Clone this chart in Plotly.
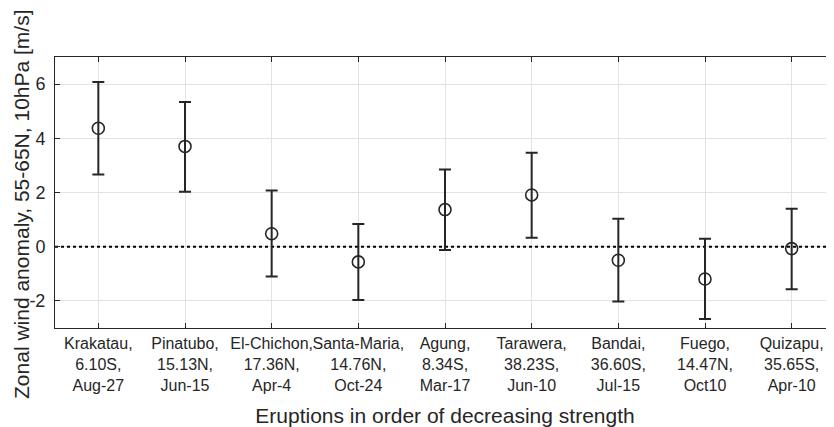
import plotly.graph_objects as go

names = ["Krakatau,<br>6.10S,<br>Aug-27", "Pinatubo,<br>15.13N,<br>Jun-15",
         "El-Chichon,<br>17.36N,<br>Apr-4", "Santa-Maria,<br>14.76N,<br>Oct-24",
         "Agung,<br>8.34S,<br>Mar-17", "Tarawera,<br>38.23S,<br>Jun-10",
         "Bandai,<br>36.60S,<br>Jul-15", "Fuego,<br>14.47N,<br>Oct10",
         "Quizapu,<br>35.65S,<br>Apr-10"]
positions = [1, 2, 3, 4, 5, 6, 7, 8, 9]
anomaly = [4.37, 3.70, 0.48, -0.56, 1.37, 1.91, -0.50, -1.19, -0.07]
err_plus = [1.71, 1.64, 1.59, 1.40, 1.48, 1.56, 1.53, 1.48, 1.47]
err_minus = [1.71, 1.67, 1.58, 1.41, 1.49, 1.58, 1.52, 1.48, 1.50]
ytick_vals = [-2, 0, 2, 4, 6]
ytick_text = ["-2", "0", "2", "4", "6"]
x_title = "Eruptions in order of decreasing strength"
y_title = "Zonal wind anomaly, 55-65N, 10hPa [m/s]"

FONT = "Liberation Sans, Arial, Helvetica, sans-serif"
ink = "#262626"

fig = go.Figure()
fig.add_trace(go.Scatter(
    x=[0.5, 9.5], y=[0, 0], mode="lines",
    line=dict(color="black", width=2, dash="dot"),
    hoverinfo="skip", showlegend=False))
fig.add_trace(go.Scatter(
    x=positions, y=anomaly, mode="markers",
    marker=dict(symbol="circle-open", size=12, color=ink, line=dict(width=1.6, color=ink)),
    error_y=dict(type="data", symmetric=False, array=err_plus, arrayminus=err_minus,
                 color=ink, thickness=2, width=6),
    showlegend=False))

fig.update_layout(
    width=834, height=427,
    margin=dict(l=47, r=7, t=49, b=107),
    paper_bgcolor="white", plot_bgcolor="white",
    font=dict(family=FONT, size=16, color=ink),
    xaxis=dict(range=[0.5, 9.5], tickvals=positions, ticktext=names, tickangle=0,
               automargin=False, ticklabelstandoff=1,
               ticks="inside", ticklen=5, tickcolor=ink, mirror="allticks",
               showline=True, linecolor=ink, linewidth=1,
               showgrid=True, gridcolor="#e3e3e3", gridwidth=1, zeroline=False,
               tickfont=dict(size=16),
               title=dict(text=x_title, font=dict(size=21), standoff=15)),
    yaxis=dict(range=[-3, 7], tickvals=ytick_vals, ticktext=ytick_text,
               automargin=False, ticklabelstandoff=5,
               ticks="inside", ticklen=5, tickcolor=ink, mirror="allticks",
               showline=True, linecolor=ink, linewidth=1,
               showgrid=True, gridcolor="#e3e3e3", gridwidth=1, zeroline=False,
               tickfont=dict(size=18)),
    annotations=[dict(text=y_title, textangle=-90, font=dict(size=21, color=ink),
                      xref="paper", yref="paper", x=-0.0423, y=0.454,
                      xanchor="center", yanchor="middle", showarrow=False)],
)

fig.write_html("out.html")
